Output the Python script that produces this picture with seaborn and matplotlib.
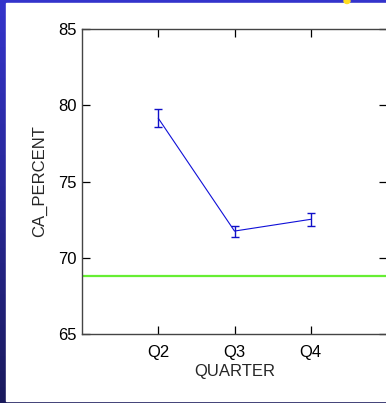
import numpy as np
import pandas as pd
import seaborn as sns
import matplotlib.pyplot as plt
from matplotlib.patches import Rectangle, Ellipse

# values
quarters = ["Q2", "Q3", "Q4"]
ca_percent = [79.15, 71.75, 72.52]
ca_err = [0.6, 0.36, 0.43]
ref_level = 68.8

df = pd.DataFrame({"QUARTER": quarters, "CA_PERCENT": ca_percent, "ERR": ca_err})

sns.set_theme(style="ticks")
plt.rcParams['font.family'] = ['Liberation Sans', 'DejaVu Sans']

W, H = 386, 403
fig = plt.figure(figsize=(W / 100, H / 100), dpi=100)

# blue gradient frame behind a white panel
bg = fig.add_axes([0, 0, 1, 1], zorder=-10)
grad = np.linspace(0, 1, 256).reshape(-1, 1)
top_c = np.array([0x34, 0x34, 0xcc]) / 255
bot_c = np.array([0x1a, 0x1a, 0x5c]) / 255
img = top_c[None, None, :] * (1 - grad[:, :, None]) + bot_c[None, None, :] * grad[:, :, None]
bg.imshow(img, aspect="auto", extent=[0, 1, 0, 1], origin="upper")
bg.add_patch(Rectangle((6 / W, 2 / H), 1, (H - 5) / H, color="white", transform=bg.transAxes))
bg.add_patch(Ellipse((347 / W, (H - 1) / H), 6 / W, 5 / H, color="#ffdd22", transform=bg.transAxes))
bg.set_xlim(0, 1)
bg.set_ylim(0, 1)
bg.axis("off")

ax = fig.add_axes([82 / W, 69 / H, (387 - 82) / W, 305 / H])
ax.set_facecolor("white")

sns.pointplot(data=df, x="QUARTER", y="CA_PERCENT", errorbar=None, markers="",
              color="#1010d8", linewidth=0.8, ax=ax)
ax.errorbar(np.arange(len(quarters)), df["CA_PERCENT"], yerr=df["ERR"], fmt="none",
            ecolor="#1010c8", elinewidth=1.0, capsize=3, capthick=1.0)
ax.axhline(ref_level, color="#66ee33", lw=1.6, zorder=1)

ax.set_xlim(-1, len(quarters))
ax.set_ylim(65, 85)
ax.set_yticks([65, 70, 75, 80, 85])
ax.set_xlabel("QUARTER", fontsize=12, labelpad=3)
ax.set_ylabel("CA_PERCENT", fontsize=12, labelpad=8)

for s in ax.spines.values():
    s.set_visible(True)
    s.set_color("#444444")
    s.set_linewidth(1.0)
ax.tick_params(axis="both", which="both", direction="in", length=6, width=0.9,
               top=True, right=True, colors="black", labelsize=12)
ax.tick_params(axis="x", pad=8)
ax.tick_params(axis="y", pad=4)

fig.savefig("out.png", dpi=100)
